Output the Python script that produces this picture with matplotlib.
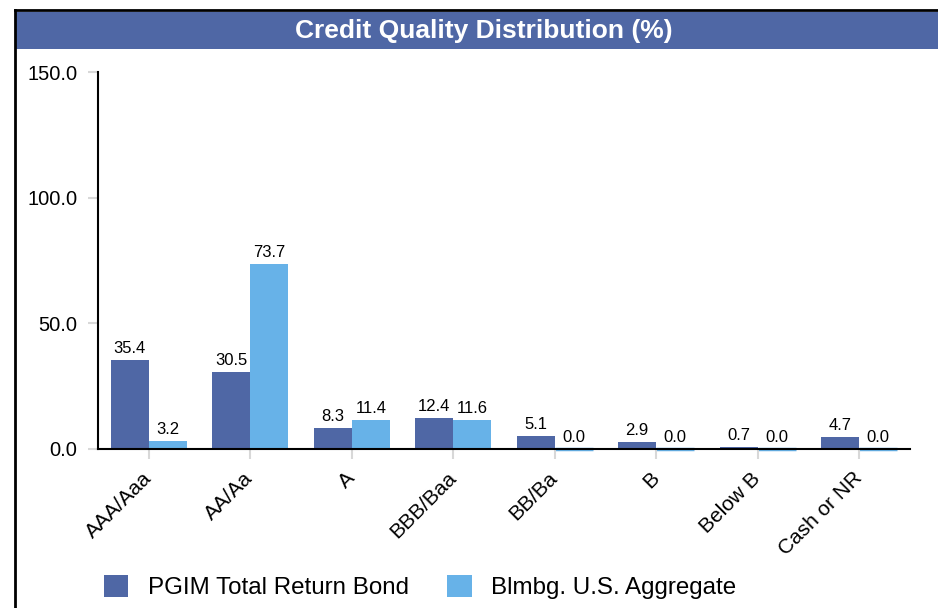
import numpy as np
import matplotlib
matplotlib.use("Agg")
import matplotlib.pyplot as plt
from matplotlib.patches import Rectangle
from matplotlib.lines import Line2D

plt.rcParams["font.family"] = ["Liberation Sans", "DejaVu Sans"]

# data
categories = ["AAA/Aaa", "AA/Aa", "A", "BBB/Baa", "BB/Ba", "B", "Below B", "Cash or NR"]
pgim = [35.4, 30.5, 8.3, 12.4, 5.1, 2.9, 0.7, 4.7]
blmbg = [3.2, 73.7, 11.4, 11.6, 0.0, 0.0, 0.0, 0.0]
series_names = ["PGIM Total Return Bond", "Blmbg. U.S. Aggregate"]
yticks = [0, 50, 100, 150]

dark = "#4F67A5"
light = "#67B2E8"

fig = plt.figure(figsize=(9.38, 6.08), dpi=100)

# frame + title banner
fig.add_artist(Line2D([15 / 938, 15 / 938], [0, 1 - 10 / 608], color="black", lw=2))
fig.add_artist(Line2D([15 / 938, 1], [1 - 10 / 608, 1 - 10 / 608], color="black", lw=2))
fig.add_artist(Rectangle((16 / 938, 1 - 49 / 608), 1, 37 / 608,
                         transform=fig.transFigure, color=dark, lw=0))
fig.text(0.516, 1 - 31 / 608, "Credit Quality Distribution (%)", color="white",
         fontsize=19, fontweight="bold", ha="center", va="center")

ax = fig.add_axes([98 / 938, 1 - 449 / 608, (910 - 98) / 938, (449 - 72) / 608])

x = np.arange(len(categories))
w = 0.375
# zero values still show as a thin line like the original
lw1 = [2.5 if v == 0 else 0 for v in pgim]
lw2 = [2.5 if v == 0 else 0 for v in blmbg]
b1 = ax.bar(x - w / 2, pgim, w, color=dark, edgecolor=dark, linewidth=lw1,
            label=series_names[0], clip_on=False)
b2 = ax.bar(x + w / 2, blmbg, w, color=light, edgecolor=light, linewidth=lw2,
            label=series_names[1], clip_on=False)

for bars, vals in ((b1, pgim), (b2, blmbg)):
    for r, v in zip(bars, vals):
        ax.annotate(f"{v:.1f}", (r.get_x() + r.get_width() / 2, v),
                    xytext=(0, 3), textcoords="offset points",
                    ha="center", va="bottom", fontsize=12)

ax.set_xlim(-0.5, len(categories) - 0.5)
ax.set_ylim(0, 150)
ax.set_yticks(yticks)
ax.set_yticklabels([f"{t:.1f}" for t in yticks], fontsize=14.5)
ax.set_xticks(x)
ax.set_xticklabels(categories, fontsize=15, rotation=45, ha="right",
                   va="center", rotation_mode="anchor")
ax.tick_params(axis="both", color="#D8D8D8", length=7, width=1.5, pad=8)
ax.tick_params(axis="x", pad=12)

for s in ("top", "right"):
    ax.spines[s].set_visible(False)
ax.spines["left"].set_linewidth(1.5)
ax.spines["bottom"].set_linewidth(1.5)
ax.spines["bottom"].set_zorder(3)

fig.legend(handles=[b1, b2], loc="center", bbox_to_anchor=(0.448, 1 - 587 / 608),
           ncol=2, frameon=False, fontsize=17.4, handlelength=1.0, handleheight=1.0,
           handletextpad=0.8, columnspacing=1.6)

fig.savefig("out.png", dpi=100)
